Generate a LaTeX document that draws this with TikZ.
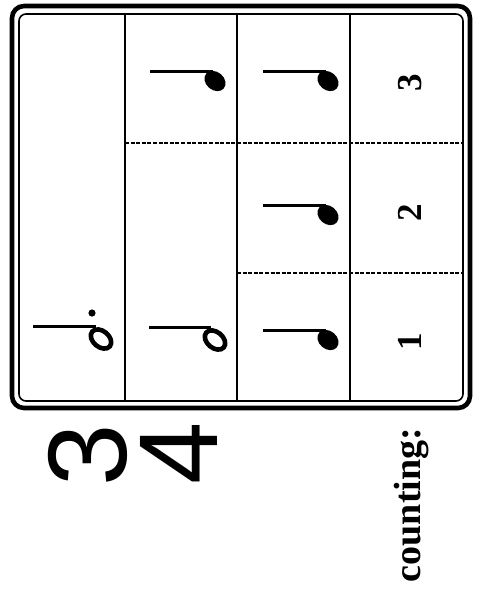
\documentclass[tikz,border=0pt]{standalone}
\usepackage{fontspec}
\setmainfont{Liberation Serif}
\setsansfont{Liberation Sans}
\usepackage{tikz}
\usetikzlibrary{positioning}

\begin{document}
\begin{tikzpicture}[
    x=1pt, y=1pt,
    outerframe/.style={line width=4.6pt, rounded corners=12pt},
    innerframe/.style={line width=1.6pt, rounded corners=7pt},
    gridline/.style={line width=1.8pt},
    beatline/.style={line width=1.8pt, dash pattern=on 4pt off 1.6pt},
    notestem/.style={line width=3pt},
    openhead/.style={line width=4.6pt, fill=white},
    countnum/.style={rotate=90, font=\bfseries\fontsize{35}{35}\selectfont},
    counttxt/.style={rotate=90, font=\bfseries\fontsize{38}{38}\selectfont},
    timesig/.style={rotate=90, font=\sffamily\fontsize{112}{112}\selectfont}
]
\useasboundingbox (0,0) rectangle (482,-592);

% frame and grid
\draw[outerframe] (12,-6) rectangle (470,-408);
\draw[innerframe] (19,-14) rectangle (463,-401);
\foreach \gx in {125,237,350}
  \draw[gridline] (\gx,-14) -- (\gx,-401);
\draw[beatline] (125,-143) -- (463,-143);
\draw[beatline] (237,-273) -- (463,-273);

% dotted half note
\draw[notestem] (33,-326) -- (96,-326);
\draw[openhead] (101,-339) ellipse [x radius=11.5pt, y radius=8pt, rotate=-40];
\fill (92,-313) circle [radius=3.6pt];

% half note
\draw[notestem] (149,-327) -- (211,-327);
\draw[openhead] (215,-340) ellipse [x radius=11.5pt, y radius=8pt, rotate=-40];

% quarter notes
\foreach \hx/\hy in {215/81, 328/81, 328/215, 328/340}{
  \draw[notestem] (\hx-65,-\hy+10) -- (\hx-2,-\hy+10);
  \fill (\hx,-\hy) ellipse [x radius=11.5pt, y radius=9pt, rotate=-40];
}

% counting
\node[countnum] (c3) at (410,-83) {3};
\node[countnum] (c2) at (410,-213) {2};
\node[countnum] (c1) at (410,-342) {1};
\node[counttxt] (count) at (412,-505) {counting:};

% time signature
\node[timesig] (ts3) at (88,-455) {3};
\node[timesig] (ts4) at (179,-453) {4};

\end{tikzpicture}
\end{document}
